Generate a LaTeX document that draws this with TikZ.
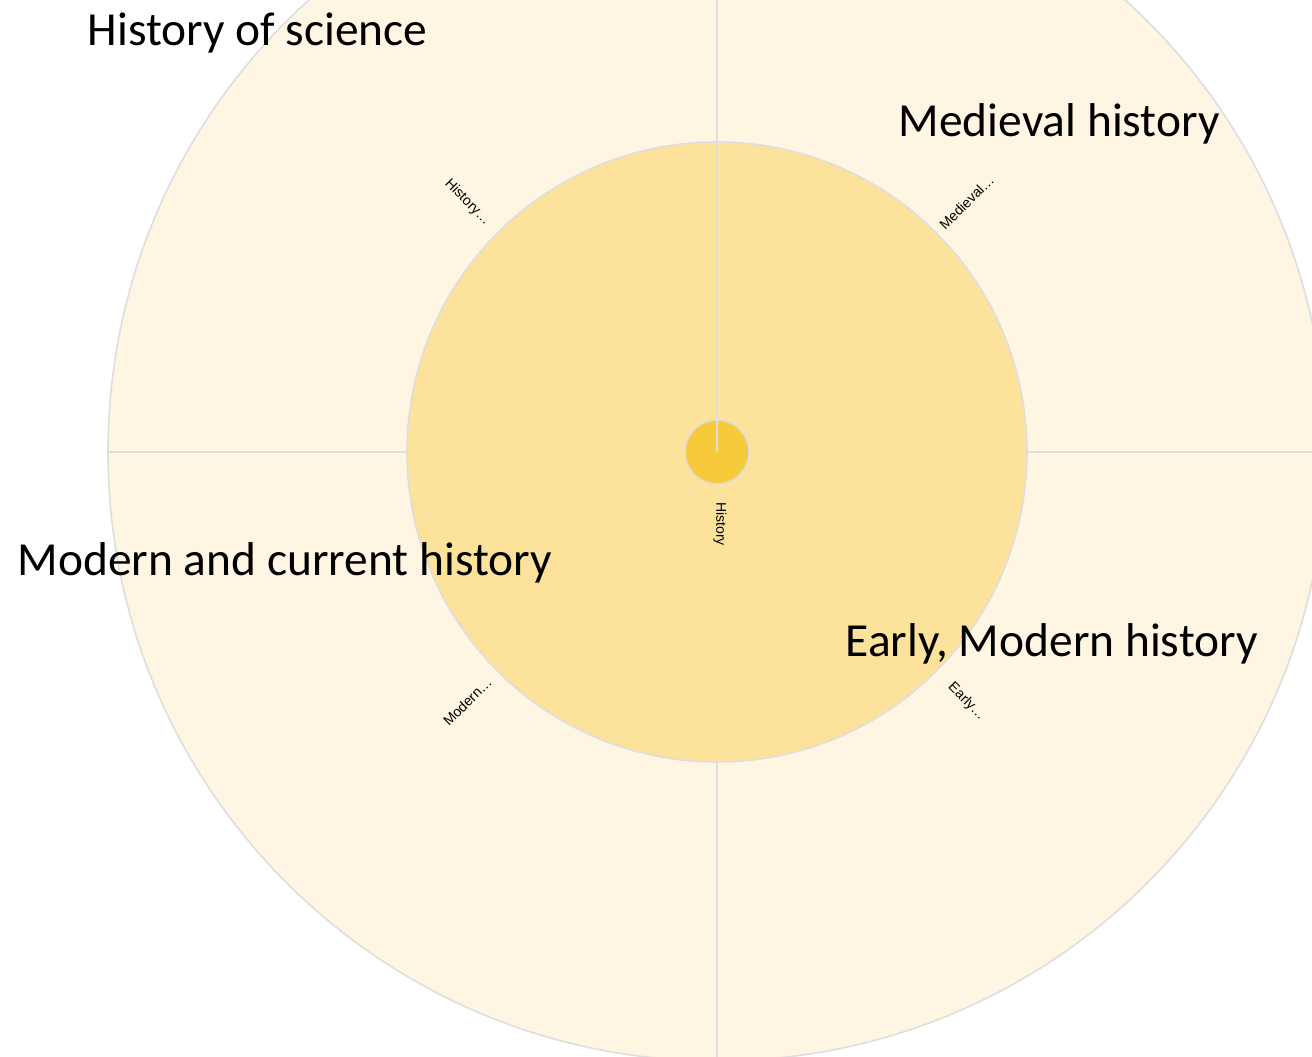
\documentclass[tikz,border=0pt]{standalone}
\usepackage{fontspec}
\setmainfont{Carlito}
\newfontfamily\tinyfont{Liberation Sans}
\usepackage{xcolor}
\definecolor{ring}{RGB}{254,246,226}
\definecolor{inner}{RGB}{252,226,155}
\definecolor{core}{RGB}{247,202,60}
\definecolor{edge}{RGB}{222,222,222}
\usetikzlibrary{positioning}
\tikzset{
  sep/.style={edge, line width=0.45pt},
  small/.style={font=\tinyfont\fontsize{4}{4.5}\selectfont, inner sep=0pt},
  big/.style={font=\fontsize{13.5}{16}\selectfont, inner sep=0pt, anchor=base west}
}

\begin{document}
\begin{tikzpicture}
\useasboundingbox (-7.17,-6.05) rectangle (5.95,4.52);
\clip (-7.17,-6.05) rectangle (5.95,4.52);
\fill[white] (-7.17,-6.05) rectangle (5.95,4.52);
% rings
\draw[sep, fill=ring] (0,0) circle(6.09);
\foreach \a in {0,90,180,270}{
\draw[sep] (\a:3.1) -- (\a:6.09);
}
\draw[sep, fill=inner] (0,0) circle(3.1);
\node[circle, draw=edge, line width=0.45pt, fill=core, minimum size=0.64cm, inner sep=0pt] (root) at (0,0) {};
\coordinate (top) at (90:3.1);
\draw[sep] (root.center) -- (top);
\node[small, rotate=-90] (rootlabel) at (0.03,-0.72) {History};
% labels of the ring
\foreach \a/\rot/\txt/\nm in {45/45/{Medieval\ldots}/med, 135/-45/{History\ldots}/sci, 225/45/{Modern\ldots}/mod, 315/-45/{Early\ldots}/early}{
\node[small, rotate=\rot] (\nm) at (\a:3.53) {\txt};
}
% big titles
\node[big] (scititle) at (-6.30,4.06) {History of science};
\node[big] (medtitle) at (1.81,3.15) {Medieval history};
\node[big] (modtitle) at (-7.00,-1.24) {Modern and current history};
\node[big] (earlytitle) at (1.28,-2.05) {Early, Modern history};
\end{tikzpicture}
\end{document}
